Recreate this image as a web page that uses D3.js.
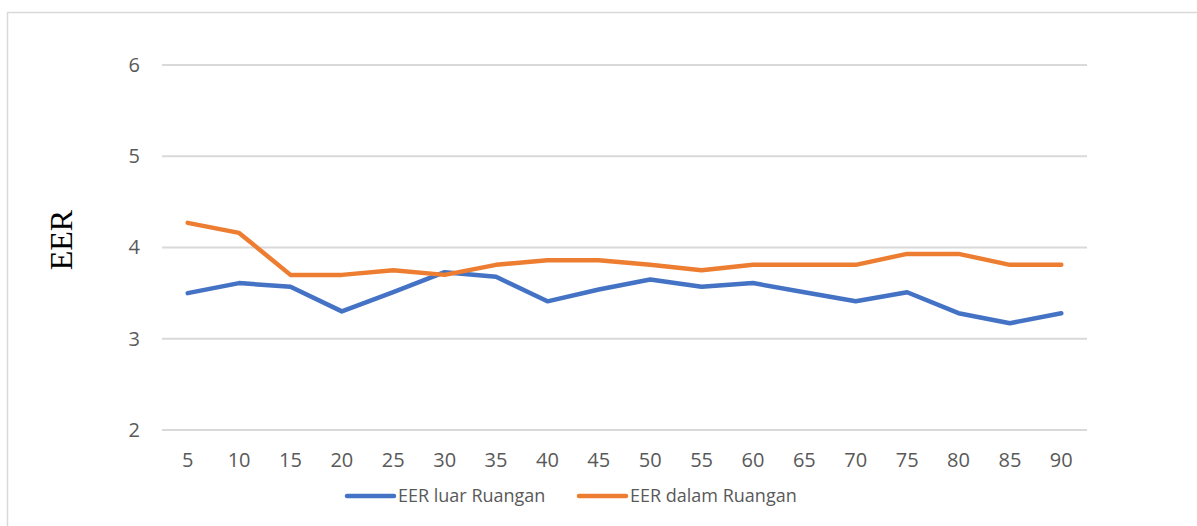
<!DOCTYPE html>
<html>
<head>
<meta charset="utf-8">
<script src="https://cdn.jsdelivr.net/npm/d3@7"></script>
<style>
  body { margin: 0; background: #fff; }
  svg { display: block; }
  text { font-family: "Open Sans", sans-serif; }
</style>
</head>
<body>
<svg id="chart" width="1197" height="526"></svg>
<script>
// data
const minutes = [5, 10, 15, 20, 25, 30, 35, 40, 45, 50, 55, 60, 65, 70, 75, 80, 85, 90];
const eerLuar = [3.50, 3.61, 3.57, 3.30, 3.51, 3.73, 3.68, 3.41, 3.54, 3.65, 3.57, 3.61, 3.51, 3.41, 3.51, 3.28, 3.17, 3.28];
const eerDalam = [4.27, 4.16, 3.70, 3.70, 3.75, 3.70, 3.81, 3.86, 3.86, 3.81, 3.75, 3.81, 3.81, 3.81, 3.93, 3.93, 3.81, 3.81];
const yTicks = [2, 3, 4, 5, 6];

const series = [
  { name: "EER luar Ruangan", values: eerLuar, color: "#4472C4" },
  { name: "EER dalam Ruangan", values: eerDalam, color: "#ED7D31" }
];

const svg = d3.select("#chart");

// outer chart frame (runs off the right and bottom edges)
svg.append("rect")
  .attr("x", 7.5).attr("y", 12.5)
  .attr("width", 1300).attr("height", 600)
  .attr("fill", "none")
  .attr("stroke", "#d9d9d9")
  .attr("stroke-width", 1.5);

const plot = { left: 162, right: 1087, top: 65, bottom: 430 };

const x = d3.scaleBand().domain(minutes).range([plot.left, plot.right]);
const y = d3.scaleLinear().domain([2, 6]).range([plot.bottom, plot.top]);

// gridlines
svg.append("g")
  .selectAll("line")
  .data(yTicks)
  .enter()
  .append("line")
  .attr("x1", plot.left).attr("x2", plot.right)
  .attr("y1", d => y(d)).attr("y2", d => y(d))
  .attr("stroke", "#d9d9d9")
  .attr("stroke-width", 2);

// y axis labels
const yAxis = svg.append("g")
  .attr("transform", `translate(${plot.left - 12},0)`)
  .call(d3.axisLeft(y).tickValues(yTicks).tickFormat(d3.format("d")).tickSize(0).tickPadding(10));
yAxis.select(".domain").remove();
yAxis.selectAll("text")
  .attr("fill", "#595959")
  .style("font-size", "20px");

// x axis labels
const xAxis = svg.append("g")
  .attr("transform", `translate(0,${plot.bottom})`)
  .call(d3.axisBottom(x).tickSize(0).tickPadding(23));
xAxis.select(".domain").remove();
xAxis.selectAll("text")
  .attr("fill", "#595959")
  .style("font-size", "20px");

// y axis title
svg.append("text")
  .attr("transform", "translate(72,240) rotate(-90)")
  .attr("text-anchor", "middle")
  .style("font-family", "'Liberation Serif', 'Times New Roman', serif")
  .style("font-size", "32px")
  .attr("fill", "#000")
  .text("EER");

// lines
const line = d3.line()
  .x((d, i) => x(minutes[i]) + x.bandwidth() / 2)
  .y(d => y(d));

svg.selectAll(".series")
  .data(series)
  .enter()
  .append("path")
  .attr("class", "series")
  .attr("d", d => line(d.values))
  .attr("fill", "none")
  .attr("stroke", d => d.color)
  .attr("stroke-width", 4.5)
  .attr("stroke-linejoin", "round")
  .attr("stroke-linecap", "round");

// legend
const legendX = [347, 579];
const legend = svg.selectAll(".legend")
  .data(series)
  .enter()
  .append("g")
  .attr("class", "legend")
  .attr("transform", (d, i) => `translate(${legendX[i]},496)`);

legend.append("line")
  .attr("x1", 0).attr("x2", 47)
  .attr("stroke", d => d.color)
  .attr("stroke-width", 4.5)
  .attr("stroke-linecap", "round");

legend.append("text")
  .attr("x", 51)
  .attr("dy", "0.35em")
  .attr("fill", "#595959")
  .style("font-size", "18px")
  .text(d => d.name);
</script>
</body>
</html>
